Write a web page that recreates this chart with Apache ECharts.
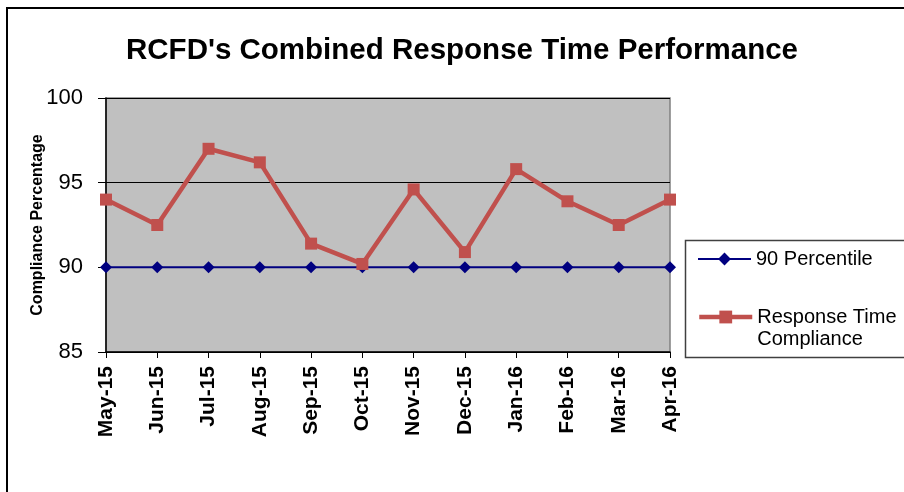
<!DOCTYPE html>
<html>
<head>
<meta charset="utf-8">
<script src="https://cdn.jsdelivr.net/npm/echarts@6/dist/echarts.min.js"></script>
<style>html,body{margin:0;padding:0;background:#fff;}#c{width:904px;height:492px;}</style>
</head>
<body>
<div id="c"></div>
<script>
var titleText = "RCFD's Combined Response Time Performance";
var yAxisName = "Compliance Percentage";
var categories = ['May-15','Jun-15','Jul-15','Aug-15','Sep-15','Oct-15','Nov-15','Dec-15','Jan-16','Feb-16','Mar-16','Apr-16'];
var percentile90 = [90, 90, 90, 90, 90, 90, 90, 90, 90, 90, 90, 90];
var compliance = [94.0, 92.5, 97.0, 96.2, 91.4, 90.2, 94.6, 90.9, 95.8, 93.9, 92.5, 94.0];
var seriesNames = ['90 Percentile', 'Response Time Compliance'];
var legendLabels = ['90 Percentile', ' \nResponse Time\nCompliance'];
var yMin = 85, yMax = 100, yStep = 5;

var FONT = 'Liberation Sans, Arial, sans-serif';
var chart = echarts.init(document.getElementById('c'));
chart.setOption({
  backgroundColor: '#ffffff',
  animation: false,
  textStyle: { fontFamily: FONT },
  title: {
    text: titleText,
    left: 121, top: 31,
    textStyle: { fontFamily: FONT, fontSize: 29.5, fontWeight: 'bold', color: '#000' }
  },
  graphic: [
    { type: 'rect', shape: { x: 7, y: 8, width: 1000, height: 1000 }, style: { fill: 'none', stroke: '#000', lineWidth: 2 }, z: 100 },
    { type: 'rect', shape: { x: 685.5, y: 240.5, width: 400, height: 117 }, style: { fill: '#fff', stroke: '#404040', lineWidth: 1.5 }, z: 1 }
  ],
  legend: [
    {
      data: [seriesNames[0]],
      left: 692, top: 243,
      itemWidth: 53, itemHeight: 16, itemGap: 6,
      formatter: function () { return legendLabels[0]; },
      lineStyle: { width: 2 },
      textStyle: { fontFamily: FONT, fontSize: 20, color: '#000', lineHeight: 22 },
      z: 10
    },
    {
      data: [seriesNames[1]],
      left: 692, top: 279,
      itemWidth: 53, itemHeight: 16, itemGap: 6,
      formatter: function () { return legendLabels[1]; },
      lineStyle: { width: 4.5 },
      textStyle: { fontFamily: FONT, fontSize: 20, color: '#000', lineHeight: 22 },
      z: 10
    }
  ],
  grid: {
    left: 106, right: 234, top: 98, bottom: 140,
    show: true, backgroundColor: '#C0C0C0', borderColor: '#808080', borderWidth: 1.5
  },
  xAxis: {
    type: 'category',
    data: categories,
    boundaryGap: false,
    axisLine: { lineStyle: { color: '#000', width: 1.5 } },
    axisTick: { show: true, length: 6, lineStyle: { color: '#000' } },
    axisLabel: { rotate: 90, margin: 14, fontFamily: FONT, fontSize: 21, fontWeight: 'bold', color: '#000', interval: 0 },
    splitLine: { show: false }
  },
  yAxis: {
    type: 'value',
    min: yMin, max: yMax, interval: yStep,
    name: yAxisName,
    nameLocation: 'middle',
    nameRotate: 90,
    nameGap: 60,
    nameMoveOverlap: false,
    nameTextStyle: { fontFamily: FONT, fontSize: 16, fontWeight: 'bold', color: '#000' },
    axisLine: { show: true, lineStyle: { color: '#000', width: 1.5 } },
    axisTick: { show: true, length: 8, lineStyle: { color: '#000' } },
    axisLabel: { margin: 23, fontFamily: FONT, fontSize: 22, color: '#000' },
    splitLine: { show: true, lineStyle: { color: '#000', width: 1 } }
  },
  series: [
    {
      name: seriesNames[0], type: 'line', data: percentile90,
      symbol: 'diamond', symbolSize: 12,
      lineStyle: { color: '#000080', width: 2 },
      itemStyle: { color: '#000080' },
      z: 3
    },
    {
      name: seriesNames[1], type: 'line', data: compliance,
      symbol: 'rect', symbolSize: 12,
      lineStyle: { color: '#C0504D', width: 4.5 },
      itemStyle: { color: '#C0504D' },
      z: 4
    }
  ]
});
</script>
</body>
</html>
